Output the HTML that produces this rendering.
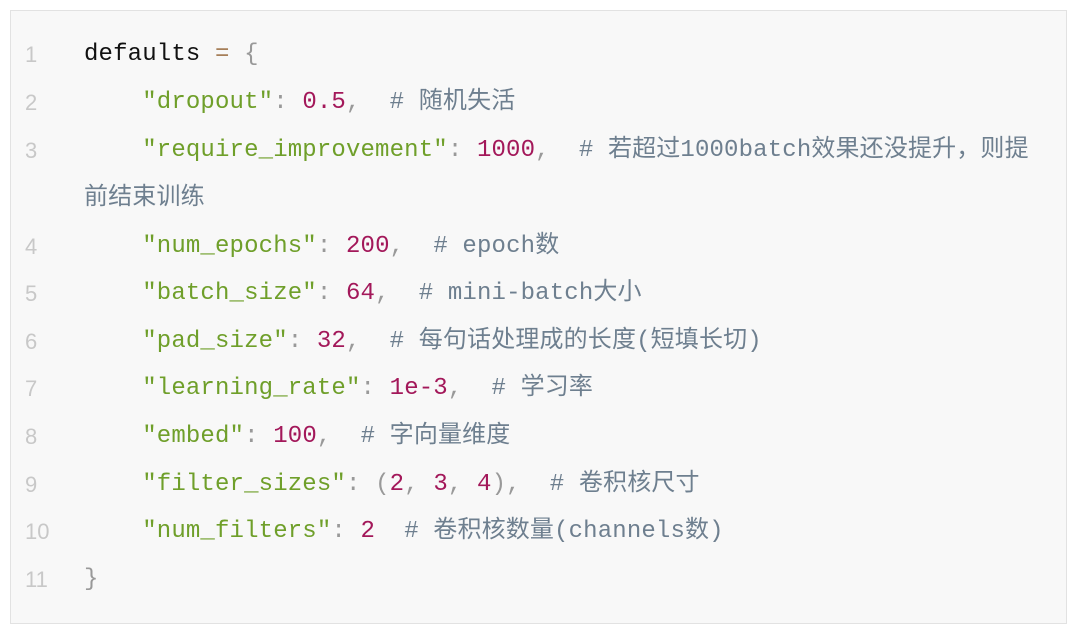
<!DOCTYPE html>
<html><head><meta charset="utf-8"><style>
html,body{margin:0;padding:0;background:#fff;width:1080px;height:633px;overflow:hidden}
.box{position:absolute;left:10px;top:10px;width:1057px;height:614px;background:#f8f8f8;border:1px solid #e2e2e2;box-sizing:border-box}
.l{position:absolute;left:0;height:48px;line-height:48px;font-family:"Liberation Mono","Noto Sans CJK SC",monospace;font-size:24px;letter-spacing:0.15px;white-space:pre;color:#111}
.n{position:absolute;left:25px;color:#c8c8c8;font-family:"Liberation Sans",sans-serif;font-size:22px;letter-spacing:0}
.c{position:absolute;left:84px}
.s{color:#6f9f2a}.m{color:#a3185a}.k{color:#6e7f8f}.o{color:#a67f59}.p{color:#999}
.k .z{letter-spacing:0.6px}
</style></head><body>
<div class="box"></div>
<div class="l" style="top:31px"><span class="n">1</span><span class="c">defaults <span class="o">=</span> <span class="p">{</span></span></div>
<div class="l" style="top:79px"><span class="n">2</span><span class="c">    <span class="s">"dropout"</span><span class="p">:</span> <span class="m">0.5</span><span class="p">,</span>  <span class="k"># 随机失活</span></span></div>
<div class="l" style="top:127px"><span class="n">3</span><span class="c">    <span class="s">"require_improvement"</span><span class="p">:</span> <span class="m">1000</span><span class="p">,</span>  <span class="k"># 若超过1000batch效果还没提升，则提</span></span></div>
<div class="l" style="top:175px"><span class="c k">前结束训练</span></div>
<div class="l" style="top:223px"><span class="n">4</span><span class="c">    <span class="s">"num_epochs"</span><span class="p">:</span> <span class="m">200</span><span class="p">,</span>  <span class="k"># epoch数</span></span></div>
<div class="l" style="top:270px"><span class="n">5</span><span class="c">    <span class="s">"batch_size"</span><span class="p">:</span> <span class="m">64</span><span class="p">,</span>  <span class="k"># mini-batch大小</span></span></div>
<div class="l" style="top:318px"><span class="n">6</span><span class="c">    <span class="s">"pad_size"</span><span class="p">:</span> <span class="m">32</span><span class="p">,</span>  <span class="k"># 每句话处理成的长度(短填长切)</span></span></div>
<div class="l" style="top:365px"><span class="n">7</span><span class="c">    <span class="s">"learning_rate"</span><span class="p">:</span> <span class="m">1e-3</span><span class="p">,</span>  <span class="k"># 学习率</span></span></div>
<div class="l" style="top:413px"><span class="n">8</span><span class="c">    <span class="s">"embed"</span><span class="p">:</span> <span class="m">100</span><span class="p">,</span>  <span class="k"># 字向量维度</span></span></div>
<div class="l" style="top:461px"><span class="n">9</span><span class="c">    <span class="s">"filter_sizes"</span><span class="p">:</span> <span class="p">(</span><span class="m">2</span><span class="p">,</span> <span class="m">3</span><span class="p">,</span> <span class="m">4</span><span class="p">),</span>  <span class="k"># 卷积核尺寸</span></span></div>
<div class="l" style="top:508px"><span class="n">10</span><span class="c">    <span class="s">"num_filters"</span><span class="p">:</span> <span class="m">2</span>  <span class="k"># 卷积核数量(channels数)</span></span></div>
<div class="l" style="top:556px"><span class="n">11</span><span class="c"><span class="p">}</span></span></div>
</body></html>
